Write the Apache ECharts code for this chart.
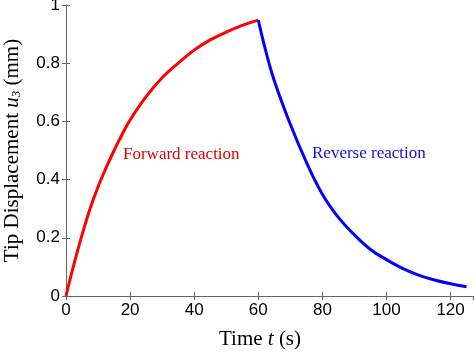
<!DOCTYPE html>
<html>
<head>
<meta charset="utf-8">
<script src="https://cdn.jsdelivr.net/npm/echarts@6/dist/echarts.min.js"></script>
<style>
  html, body { margin: 0; padding: 0; background: #fff; }
  #chart { width: 474px; height: 353px; }
</style>
</head>
<body>
<div id="chart"></div>
<script>
// values
const forwardTime = [0, 2.5, 5, 7.5, 10, 12.5, 15, 17.5, 20, 25, 30, 35, 40, 45, 50, 55, 60]
const forwardDisp = [0, 0.11, 0.21, 0.30, 0.375, 0.44, 0.50, 0.555, 0.605, 0.685, 0.75, 0.80, 0.845, 0.88, 0.907, 0.93, 0.948]
const reverseTime = [60, 62.5, 65, 70, 75, 80, 85, 90, 95, 100, 105, 110, 115, 120, 125]
const reverseDisp = [0.948, 0.835, 0.74, 0.59, 0.46, 0.35, 0.27, 0.21, 0.16, 0.125, 0.095, 0.072, 0.055, 0.042, 0.032]
const xTicks = [0, 20, 40, 60, 80, 100, 120]
const yTicks = [0, 0.2, 0.4, 0.6, 0.8, 1]

const axisGray = '#666'
const labelFont = '"Liberation Sans", Arial, sans-serif'
const serifFont = '"Liberation Serif", "Times New Roman", serif'

const toPairs = (xs, ys) => xs.map((x, i) => [x, ys[i]])

const baseX = {
  type: 'value',
  min: 0,
  max: 127,
  interval: 20,
  splitLine: { show: false },
  axisLine: { show: true, lineStyle: { color: axisGray, width: 1 } },
  axisTick: { show: true, inside: true, length: 4, lineStyle: { color: axisGray } },
}
const baseY = {
  type: 'value',
  min: 0,
  max: 1,
  interval: 0.2,
  splitLine: { show: false },
  axisLine: { show: true, lineStyle: { color: axisGray, width: 1 } },
  axisTick: { show: true, inside: true, length: 4, lineStyle: { color: axisGray } },
}

const option = {
  animation: false,
  backgroundColor: '#fff',
  grid: { left: 66, right: 1, top: 5, bottom: 57, outerBoundsMode: 'none', containLabel: false },
  xAxis: [
    {
      ...baseX,
      position: 'bottom',
      axisLabel: {
        color: '#000',
        fontFamily: labelFont,
        fontSize: 17,
        margin: 6,
        showMaxLabel: false,
        formatter: v => (xTicks.includes(v) ? String(v) : ''),
      },
      name: '{n|Time }{i|t}{n| (s)}',
      nameLocation: 'middle',
      nameGap: 33,
      nameTextStyle: {
        padding: [0, 19, 0, 0],
        rich: {
          n: { fontFamily: serifFont, fontSize: 21, color: '#000' },
          i: { fontFamily: serifFont, fontSize: 21, fontStyle: 'italic', color: '#000' },
        },
      },
    },
    { ...baseX, position: 'top', axisLabel: { show: false } },
  ],
  yAxis: [
    {
      ...baseY,
      position: 'left',
      axisLabel: {
        color: '#000',
        fontFamily: labelFont,
        fontSize: 17,
        margin: 6,
        formatter: v => (yTicks.includes(Math.round(v * 10) / 10) ? String(Math.round(v * 10) / 10) : ''),
      },
      name: '{n|Tip Displacement }{i|u}{s|3}{n| (mm)}',
      nameLocation: 'middle',
      nameGap: 43,
      nameRotate: 90,
      nameTextStyle: {
        rich: {
          n: { fontFamily: serifFont, fontSize: 21, color: '#000' },
          i: { fontFamily: serifFont, fontSize: 21, fontStyle: 'italic', color: '#000' },
          s: { fontFamily: serifFont, fontSize: 13, fontStyle: 'italic', color: '#000', verticalAlign: 'bottom', padding: [7, 0, 0, 0] },
        },
      },
    },
    { ...baseY, position: 'right', axisLabel: { show: false } },
  ],
  series: [
    {
      name: 'Forward reaction',
      type: 'line',
      data: toPairs(forwardTime, forwardDisp),
      smooth: 0.4,
      showSymbol: false,
      lineStyle: { color: '#ff0000', width: 3 },
    },
    {
      name: 'Reverse reaction',
      type: 'line',
      data: toPairs(reverseTime, reverseDisp),
      smooth: 0.4,
      showSymbol: false,
      lineStyle: { color: '#0000ff', width: 3 },
    },
  ],
  graphic: [
    {
      type: 'text',
      left: 123,
      top: 146,
      style: { text: 'Forward reaction', fill: '#e00000', font: '17px ' + serifFont },
    },
    {
      type: 'text',
      left: 312,
      top: 145,
      style: { text: 'Reverse reaction', fill: '#1010d0', font: '17px ' + serifFont },
    },
  ],
}

const chart = echarts.init(document.getElementById('chart'))
chart.setOption(option)
</script>
</body>
</html>
